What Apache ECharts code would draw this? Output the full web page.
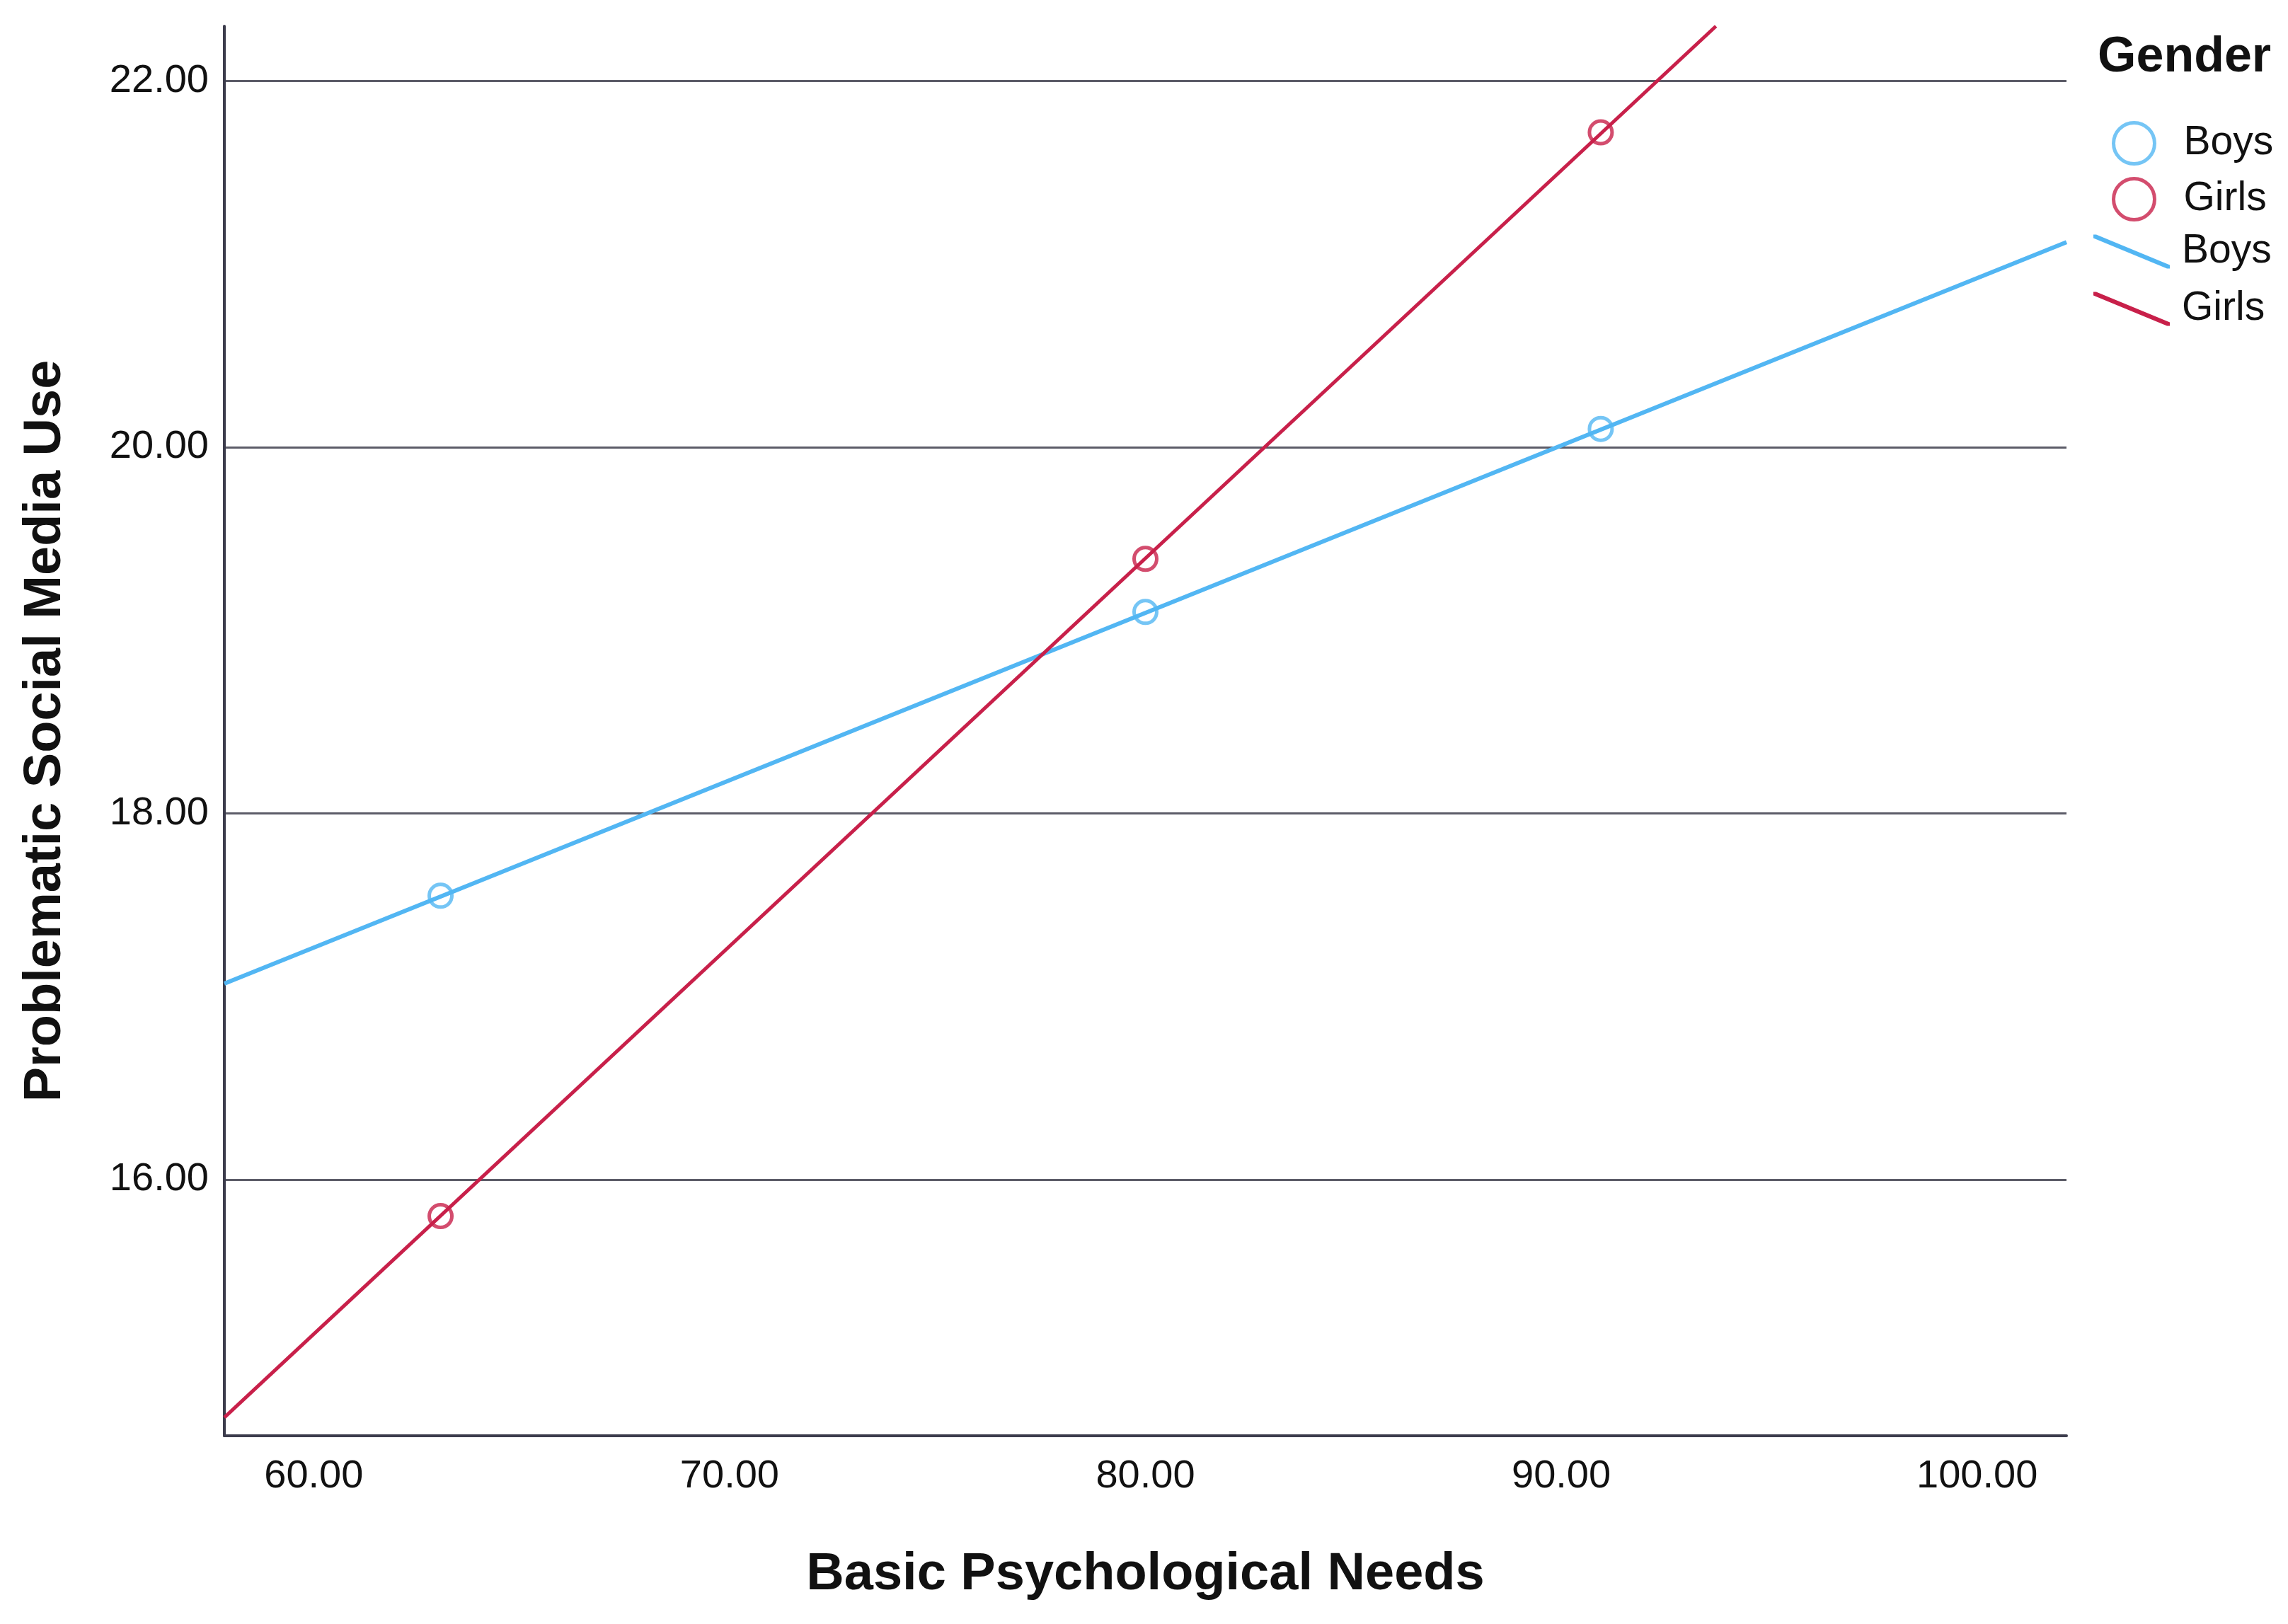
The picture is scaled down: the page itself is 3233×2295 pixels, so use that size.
<!DOCTYPE html>
<html>
<head>
<meta charset="utf-8">
<script src="https://cdn.jsdelivr.net/npm/echarts@6/dist/echarts.min.js"></script>
<style>
html,body{margin:0;padding:0;background:#fff;}
#chart{width:3233px;height:2295px;}
</style>
</head>
<body>
<div id="chart"></div>
<script>
// ---- data ----
const xTicks = [60, 70, 80, 90, 100];
const yTicks = [16, 18, 20, 22];
const xRange = [57.85, 102.15];
const yRange = [14.6, 22.3];
const xPoints = [63.05, 80.0, 90.95];
const boysMeans = [17.55, 19.10, 20.10];
const girlsMeans = [15.80, 19.39, 21.72];
const boysFitX = [57.85, 102.15];
const boysFitY = [17.07, 21.12];
const girlsFitX = [57.85, 93.72];
const girlsFitY = [14.70, 22.30];

const BLUE = '#52b6f3';
const RED = '#c8204a';
const FONT = 'Liberation Sans, Arial, sans-serif';

const zip = (xs, ys) => xs.map((x, i) => [x, ys[i]]);

const chart = echarts.init(document.getElementById('chart'), null, {renderer: 'canvas'});
chart.setOption({
  backgroundColor: '#ffffff',
  animation: false,
  title: {
    text: 'Gender',
    left: 2959, top: 42,
    textStyle: {fontFamily: FONT, fontSize: 70, fontWeight: 'bold', color: '#111'}
  },
  legend: [
    {
      data: ['Boys', 'Girls'],
      orient: 'vertical', left: 2979, top: 166,
      itemWidth: 58, itemHeight: 58, itemGap: 16,
      icon: 'circle',
      itemStyle: {borderWidth: 5},
      textStyle: {fontFamily: FONT, fontSize: 57, color: '#111', padding: [0, 0, 0, 36]},
      selectedMode: false
    },
    {
      data: ['Boys ', 'Girls '],
      orient: 'vertical', left: 2953, top: 322,
      itemWidth: 108, itemHeight: 48, itemGap: 24,
      icon: 'path://M0,0 L4,0 L108,43 L108,48 L104,48 L0,5 Z',
      textStyle: {fontFamily: FONT, fontSize: 57, color: '#111', padding: [0, 0, 0, 12]},
      selectedMode: false
    }
  ],
  grid: {left: 317, right: 313, top: 37, bottom: 266, containLabel: false},
  xAxis: {
    type: 'value', min: xRange[0], max: xRange[1],
    name: 'Basic Psychological Needs', nameLocation: 'middle', nameGap: 160,
    nameTextStyle: {fontFamily: FONT, fontSize: 74, fontWeight: 'bold', color: '#111'},
    axisLine: {show: true, lineStyle: {color: '#3c3c4c', width: 4}},
    axisTick: {show: false, customValues: xTicks},
    axisLabel: {customValues: xTicks, margin: 30, fontFamily: FONT, fontSize: 56, color: '#111',
      formatter: v => v.toFixed(2)},
    splitLine: {show: false}
  },
  yAxis: {
    type: 'value', min: yRange[0], max: yRange[1],
    name: 'Problematic Social Media Use', nameLocation: 'middle', nameGap: 215, nameRotate: 90,
    nameTextStyle: {fontFamily: FONT, fontSize: 74, fontWeight: 'bold', color: '#111'},
    axisLine: {show: true, lineStyle: {color: '#3c3c4c', width: 4}},
    axisTick: {show: false, customValues: yTicks},
    axisLabel: {customValues: yTicks, margin: 22, fontFamily: FONT, fontSize: 56, color: '#111',
      padding: [10, 0, 0, 0], formatter: v => v.toFixed(2)},
    splitLine: {show: true, lineStyle: {color: '#5c5c68', width: 3}}
  },
  series: [
    {
      name: 'Boys ', type: 'line', data: zip(boysFitX, boysFitY),
      showSymbol: false, symbol: 'none', clip: true,
      lineStyle: {color: BLUE, width: 6}, itemStyle: {color: BLUE}, z: 3
    },
    {
      name: 'Girls ', type: 'line', data: zip(girlsFitX, girlsFitY),
      showSymbol: false, symbol: 'none', clip: true,
      lineStyle: {color: RED, width: 5}, itemStyle: {color: RED}, z: 3
    },
    {
      name: 'Boys', type: 'scatter', data: zip(xPoints, boysMeans),
      symbol: 'circle', symbolSize: 32,
      itemStyle: {color: 'rgba(0,0,0,0)', borderColor: BLUE, borderWidth: 5}, z: 4
    },
    {
      name: 'Girls', type: 'scatter', data: zip(xPoints, girlsMeans),
      symbol: 'circle', symbolSize: 32,
      itemStyle: {color: 'rgba(0,0,0,0)', borderColor: RED, borderWidth: 5}, z: 4
    }
  ]
});
</script>
</body>
</html>
